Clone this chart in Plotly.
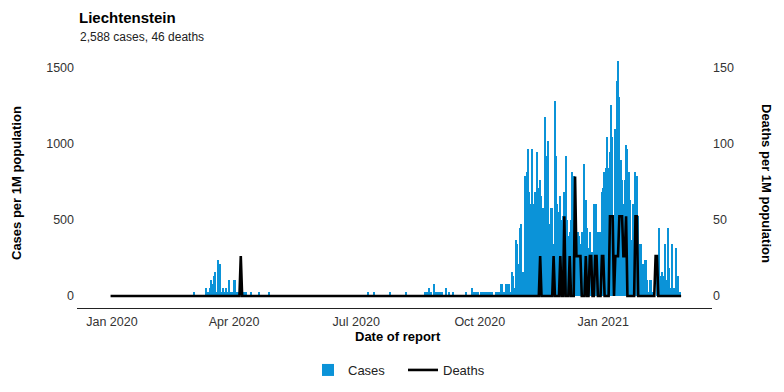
import pandas as pd
import plotly.graph_objects as go
from plotly.subplots import make_subplots

# ---- data: daily reported case counts (Liechtenstein), by month ----
POPULATION = 38128
cases_dec19 = [0]
cases_jan20 = [0] * 31
cases_feb20 = [0] * 29
cases_mar20 = [0, 1, 0, 0, 0, 0, 0, 0, 0, 0, 2, 1, 1, 2, 4, 3, 5, 6, 1, 9, 1, 8, 1, 2, 1, 2, 1, 4, 1, 1, 1]
cases_apr20 = [4, 4, 1, 1, 0, 0, 0, 1, 1, 1, 0, 0, 0, 1, 0, 0, 0, 0, 0, 1, 0, 0, 0, 0, 0, 0, 1, 0, 0, 0]
cases_may20 = [0] * 31
cases_jun20 = [0] * 30
cases_jul20 = [0, 0, 0, 0, 0, 0, 0, 0, 0, 1, 0, 0, 0, 1, 0, 0, 0, 0, 0, 0, 0, 0, 0, 0, 0, 1, 0, 0, 0, 0, 0]
cases_aug20 = [0, 0, 0, 0, 0, 0, 1, 0, 0, 0, 0, 0, 0, 0, 0, 0, 0, 0, 0, 0, 1, 1, 1, 2, 1, 1, 0, 3, 1, 1, 0]
cases_sep20 = [1, 1, 1, 0, 0, 2, 0, 1, 0, 0, 1, 0, 0, 0, 0, 0, 0, 0, 0, 0, 1, 0, 0, 0, 2, 0, 1, 1, 0, 1]
cases_oct20 = [0, 1, 1, 1, 0, 1, 1, 0, 1, 1, 0, 0, 1, 0, 1, 1, 3, 3, 1, 0, 3, 3, 3, 1, 6, 5, 2, 14, 13, 8, 17]
cases_nov20 = [18, 6, 2, 30, 31, 37, 26, 23, 37, 23, 26, 23, 36, 27, 29, 25, 22, 12, 45, 35, 39, 18, 22, 22, 13, 49, 35, 23, 21, 25]
cases_dec20 = [19, 20, 26, 35, 19, 15, 16, 19, 31, 30, 29, 10, 16, 15, 13, 16, 11, 33, 24, 17, 12, 16, 10, 11, 23, 16, 23, 16, 16, 16, 26]
cases_jan21 = [27, 31, 32, 40, 32, 36, 48, 40, 14, 42, 54, 59, 50, 34, 29, 23, 29, 38, 37, 31, 24, 14, 23, 21, 31, 30, 20, 13, 13, 8, 8]
cases_feb21 = [9, 9, 4, 1, 4, 4, 1, 1, 0, 10, 10, 17, 5, 6, 5, 13, 4, 17, 7, 2, 13, 2, 2, 12, 3, 5, 1, 0]

# daily deaths (only days with deaths listed)
death_dates = ["2020-04-06", "2020-11-15", "2020-11-25", "2020-11-30", "2020-12-03",
               "2020-12-07", "2020-12-11", "2020-12-12", "2020-12-13", "2020-12-14",
               "2020-12-15", "2020-12-19", "2020-12-22", "2020-12-23", "2020-12-26",
               "2020-12-27", "2020-12-31", "2021-01-01", "2021-01-06", "2021-01-07",
               "2021-01-08", "2021-01-10", "2021-01-11", "2021-01-12", "2021-01-13",
               "2021-01-14", "2021-01-15", "2021-01-16", "2021-01-17", "2021-01-18",
               "2021-01-25", "2021-01-26", "2021-02-09", "2021-02-10"]
death_counts = [1, 1, 1, 1, 2, 1, 3, 1, 1, 1,
                1, 1, 1, 1, 1, 1, 1, 1, 2, 2,
                2, 1, 1, 1, 2, 2, 2, 1, 1, 2,
                2, 2, 1, 1]

x_tickvals = ["2020-01-01", "2020-04-01", "2020-07-01", "2020-10-01", "2021-01-01"]
x_ticktext = ["Jan 2020", "Apr 2020", "Jul 2020", "Oct 2020", "Jan 2021"]
y_left_ticks = [0, 500, 1000, 1500]
y_right_ticks = [0, 50, 100, 150]

# ---- build series ----
case_counts = (cases_dec19 + cases_jan20 + cases_feb20 + cases_mar20 + cases_apr20 +
               cases_may20 + cases_jun20 + cases_jul20 + cases_aug20 + cases_sep20 +
               cases_oct20 + cases_nov20 + cases_dec20 + cases_jan21 + cases_feb21)
dates = pd.date_range("2019-12-31", periods=len(case_counts), freq="D")
per_m = 1e6 / POPULATION
cases_pm = pd.Series(case_counts, index=dates) * per_m
deaths = pd.Series(0.0, index=dates)
for d, c in zip(death_dates, death_counts):
    deaths[pd.Timestamp(d)] = c
deaths_pm = deaths * per_m

FONT = "Liberation Sans, Arial, Helvetica, sans-serif"
BLUE = "#0b93d8"
OFF = 8  # page body margin
W, H = 784 - OFF, 392 - OFF
L, T = 77, 44          # plot-area edges in page pixels
PW, PH = 635, 264
ML, MT = L - OFF, T - OFF
MR, MB = W - ML - PW, H - MT - PH


def px_x(x):
    return (x - L) / PW


def px_y(y):
    return 1 - (y - T) / PH


fig = make_subplots(specs=[[{"secondary_y": True}]])
fig.add_trace(go.Bar(x=cases_pm.index, y=cases_pm.values, name="Cases",
                     marker=dict(color=BLUE, line=dict(width=0)),
                     width=86400000), secondary_y=False)
fig.add_trace(go.Scatter(x=deaths_pm.index, y=deaths_pm.values, name="Deaths",
                         mode="lines", line=dict(color="black", width=2.6)),
              secondary_y=True)

ymin, ymax = -78.9, 1657.9
fig.update_layout(
    width=W, height=H,
    margin=dict(l=ML, r=MR, t=MT, b=MB, autoexpand=False),
    paper_bgcolor="white", plot_bgcolor="white",
    font=dict(family=FONT, size=12.5, color="#333333"),
    bargap=0,
    showlegend=True,
    legend=dict(orientation="h", x=px_x(308), xanchor="left", y=px_y(370), yanchor="middle",
                font=dict(size=13, color="#222222"), itemwidth=30, traceorder="normal",
                entrywidth=50, entrywidthmode="pixels"),
    annotations=[
        dict(text="<b>Liechtenstein</b>", xref="paper", yref="paper", x=px_x(78), y=px_y(8.5),
             xanchor="left", yanchor="top", showarrow=False, borderpad=0,
             font=dict(size=15, color="black", family=FONT)),
        dict(text="2,588 cases, 46 deaths", xref="paper", yref="paper", x=px_x(78), y=px_y(37),
             xanchor="left", yanchor="middle", showarrow=False,
             font=dict(size=12, color="#222222", family=FONT)),
        dict(text="<b>Date of report</b>", xref="paper", yref="paper",
             x=px_x(398), y=px_y(336),
             xanchor="center", yanchor="middle", showarrow=False,
             font=dict(size=13, color="black", family=FONT)),
        dict(text="<b>Cases per 1M population</b>", xref="paper", yref="paper",
             x=px_x(16), y=px_y(183), textangle=-90,
             xanchor="center", yanchor="middle", showarrow=False,
             font=dict(size=13, color="black", family=FONT)),
        dict(text="<b>Deaths per 1M population</b>", xref="paper", yref="paper",
             x=px_x(767), y=px_y(183), textangle=90,
             xanchor="center", yanchor="middle", showarrow=False,
             font=dict(size=13, color="black", family=FONT)),
    ],
)
fig.update_xaxes(type="date", range=["2019-12-06", "2021-03-23"], domain=[0, 1],
                 tickvals=x_tickvals, ticktext=x_ticktext, automargin=False,
                 showline=True, linecolor="#222222", linewidth=1.3,
                 showgrid=False, zeroline=False, ticks="", ticklabelstandoff=2,
                 tickfont=dict(size=12.5, color="#333333"))
fig.update_yaxes(range=[ymin, ymax], tickvals=y_left_ticks, showgrid=False, automargin=False,
                 zeroline=False, showline=False, ticks="", ticklabelstandoff=2,
                 tickfont=dict(size=12.5, color="#333333"), secondary_y=False)
fig.update_yaxes(range=[ymin / 10, ymax / 10], tickvals=y_right_ticks, showgrid=False,
                 automargin=False,
                 zeroline=False, showline=False, ticks="",
                 tickfont=dict(size=12.5, color="#333333"), secondary_y=True)

fig.write_html("out.html")
